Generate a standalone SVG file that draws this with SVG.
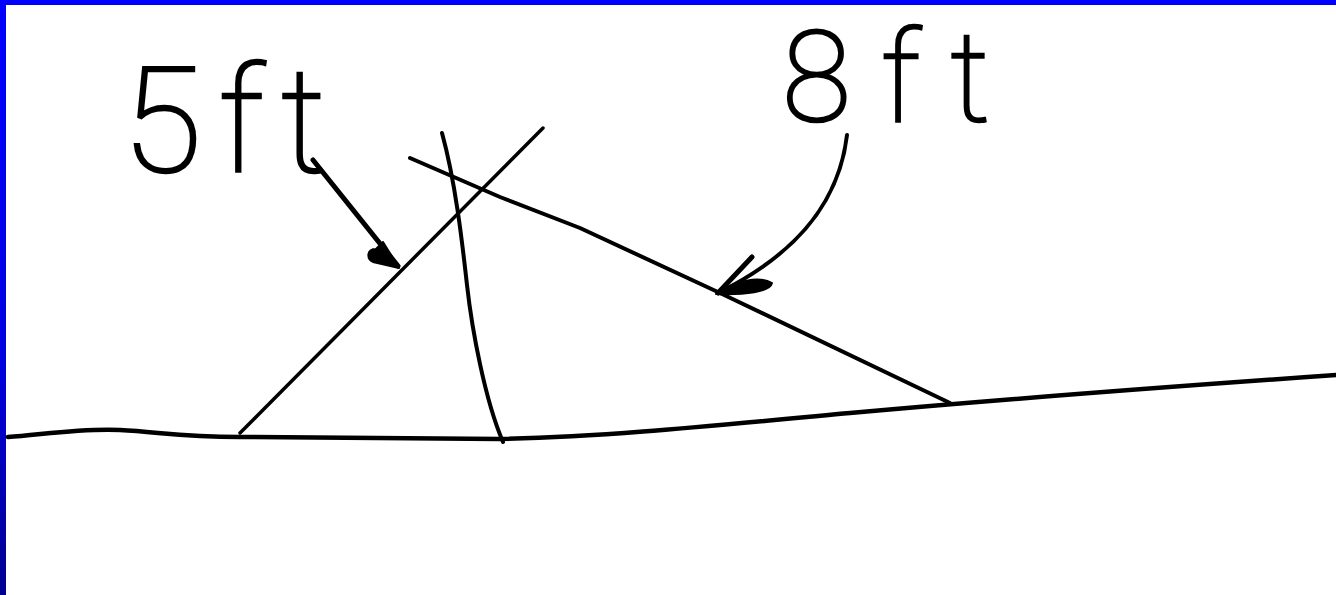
<svg xmlns="http://www.w3.org/2000/svg" width="1336" height="595" viewBox="0 0 1336 595">
<defs>
<linearGradient id="sideBlue" x1="0" y1="0" x2="0" y2="1">
<stop offset="0" stop-color="#0000ff"/>
<stop offset="0.6" stop-color="#0000e0"/>
<stop offset="1" stop-color="#000090"/>
</linearGradient>
<style>
.ink{fill:none;stroke:#000;stroke-linecap:round;stroke-linejoin:round}
.blob{fill:#000;stroke:#000;stroke-width:2;stroke-linejoin:round}
.hand{font-family:"Roboto","Inter","Lato","Liberation Sans",sans-serif;font-weight:100;fill:#000;stroke:#000;stroke-width:2.5}
</style>
</defs>
<rect x="0" y="0" width="1336" height="595" fill="#fff"/>
<rect x="0" y="0" width="1336" height="5" fill="#0000ff"/>
<rect x="0" y="0" width="6" height="595" fill="url(#sideBlue)"/>

<g id="ground">
<path class="ink" stroke-width="4.5" d="M8,437 C40,435 80,428 120,430 C160,432 180,437 240,437 L500,439 C600,437 700,427 850,413 C950,404 1150,388 1336,375"/>
</g>

<g id="side-5ft">
<path class="ink" stroke-width="3.5" d="M240,433 L543,128"/>
</g>
<g id="vertical">
<path class="ink" stroke-width="4" d="M442,133 C455,180 462,240 467,285 C472,330 485,400 503,442"/>
</g>
<g id="side-8ft">
<path class="ink" stroke-width="4" d="M410,158 L500,197 L580,228 L720,293 L950,403"/>
</g>

<g id="label-5ft">
<text class="hand" x="122" y="172" font-size="146" textLength="205" lengthAdjust="spacing">5ft</text>
</g>
<g id="label-8ft">
<text class="hand" x="782" y="121" font-size="126" textLength="208" lengthAdjust="spacing">8ft</text>
</g>

<g id="connectors">
<path class="ink" stroke-width="5" d="M313,160 L398,266"/>
<path class="blob" d="M399,268 L373,262 C366,258 367,249 376,249 L383,242 Z"/>
<path class="ink" stroke-width="4" d="M847,135 C840,195 805,250 718,293"/>
<path class="ink" stroke-width="5" d="M752,257 L718,293"/>
<path class="blob" d="M716,294 C735,280 760,276 772,283 C770,292 745,295 716,294 Z"/>
</g>
</svg>
